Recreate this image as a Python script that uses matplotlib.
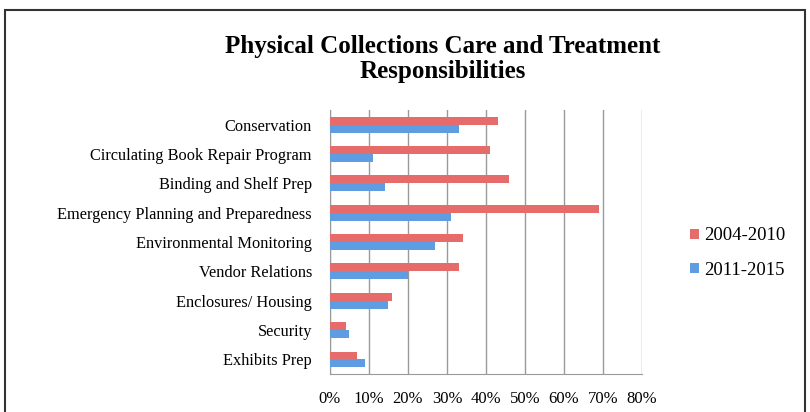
import numpy as np
import matplotlib.pyplot as plt
from matplotlib.patches import Rectangle

categorias = ['Conservation', 'Circulating Book Repair Program', 'Binding and Shelf Prep',
              'Emergency Planning and Preparedness', 'Environmental Monitoring',
              'Vendor Relations', 'Enclosures/ Housing', 'Security', 'Exhibits Prep']
valores_2004 = [43, 41, 46, 69, 34, 33, 16, 4, 7]
valores_2011 = [33, 11, 14, 31, 27, 20, 15, 5, 9]
series = ['2004-2010', '2011-2015']

plt.rcParams['font.family'] = ['Liberation Serif', 'DejaVu Serif']

fig = plt.figure(figsize=(8.1, 4.12), dpi=100)
ax = fig.add_axes([0.4074, 0.092, 0.3852, 0.641])

y = np.arange(len(categorias))[::-1]
h = 0.27
ax.barh(y + h/2, valores_2004, h, color='#e66b6b', label=series[0], zorder=3)
ax.barh(y - h/2, valores_2011, h, color='#5f9de2', label=series[1], zorder=3)

ax.set_xlim(0, 80)
ax.set_ylim(-0.5, len(categorias) - 0.5)
ax.set_xticks(np.arange(0, 81, 10))
ax.set_xticklabels([f'{v}%' for v in range(0, 81, 10)], fontsize=12)
ax.set_yticks(y)
ax.set_yticklabels(categorias, fontsize=11.8)
ax.tick_params(axis='y', length=0, pad=13)
ax.tick_params(axis='x', length=0, pad=12)
ax.grid(axis='x', color='#9a9a9a', linewidth=1, zorder=0)
for s in ['top', 'right']:
    ax.spines[s].set_visible(False)
for s in ['left', 'bottom']:
    ax.spines[s].set_color('#9a9a9a')

fig.text(0.547, 0.856, 'Physical Collections Care and Treatment\nResponsibilities',
         ha='center', va='center', fontsize=18, fontweight='bold', linespacing=1.1)

ax.legend(loc='center left', bbox_to_anchor=(1.1, 0.458), frameon=False, fontsize=13.5,
          handlelength=0.45, handleheight=0.45, labelspacing=0.95, handletextpad=0.3)

fig.patches.append(Rectangle((5/810, -0.1), 800/810, (402/412) + 0.1, transform=fig.transFigure,
                             fill=False, edgecolor='#333333', linewidth=1.5))

fig.savefig('out.png', dpi=100)
